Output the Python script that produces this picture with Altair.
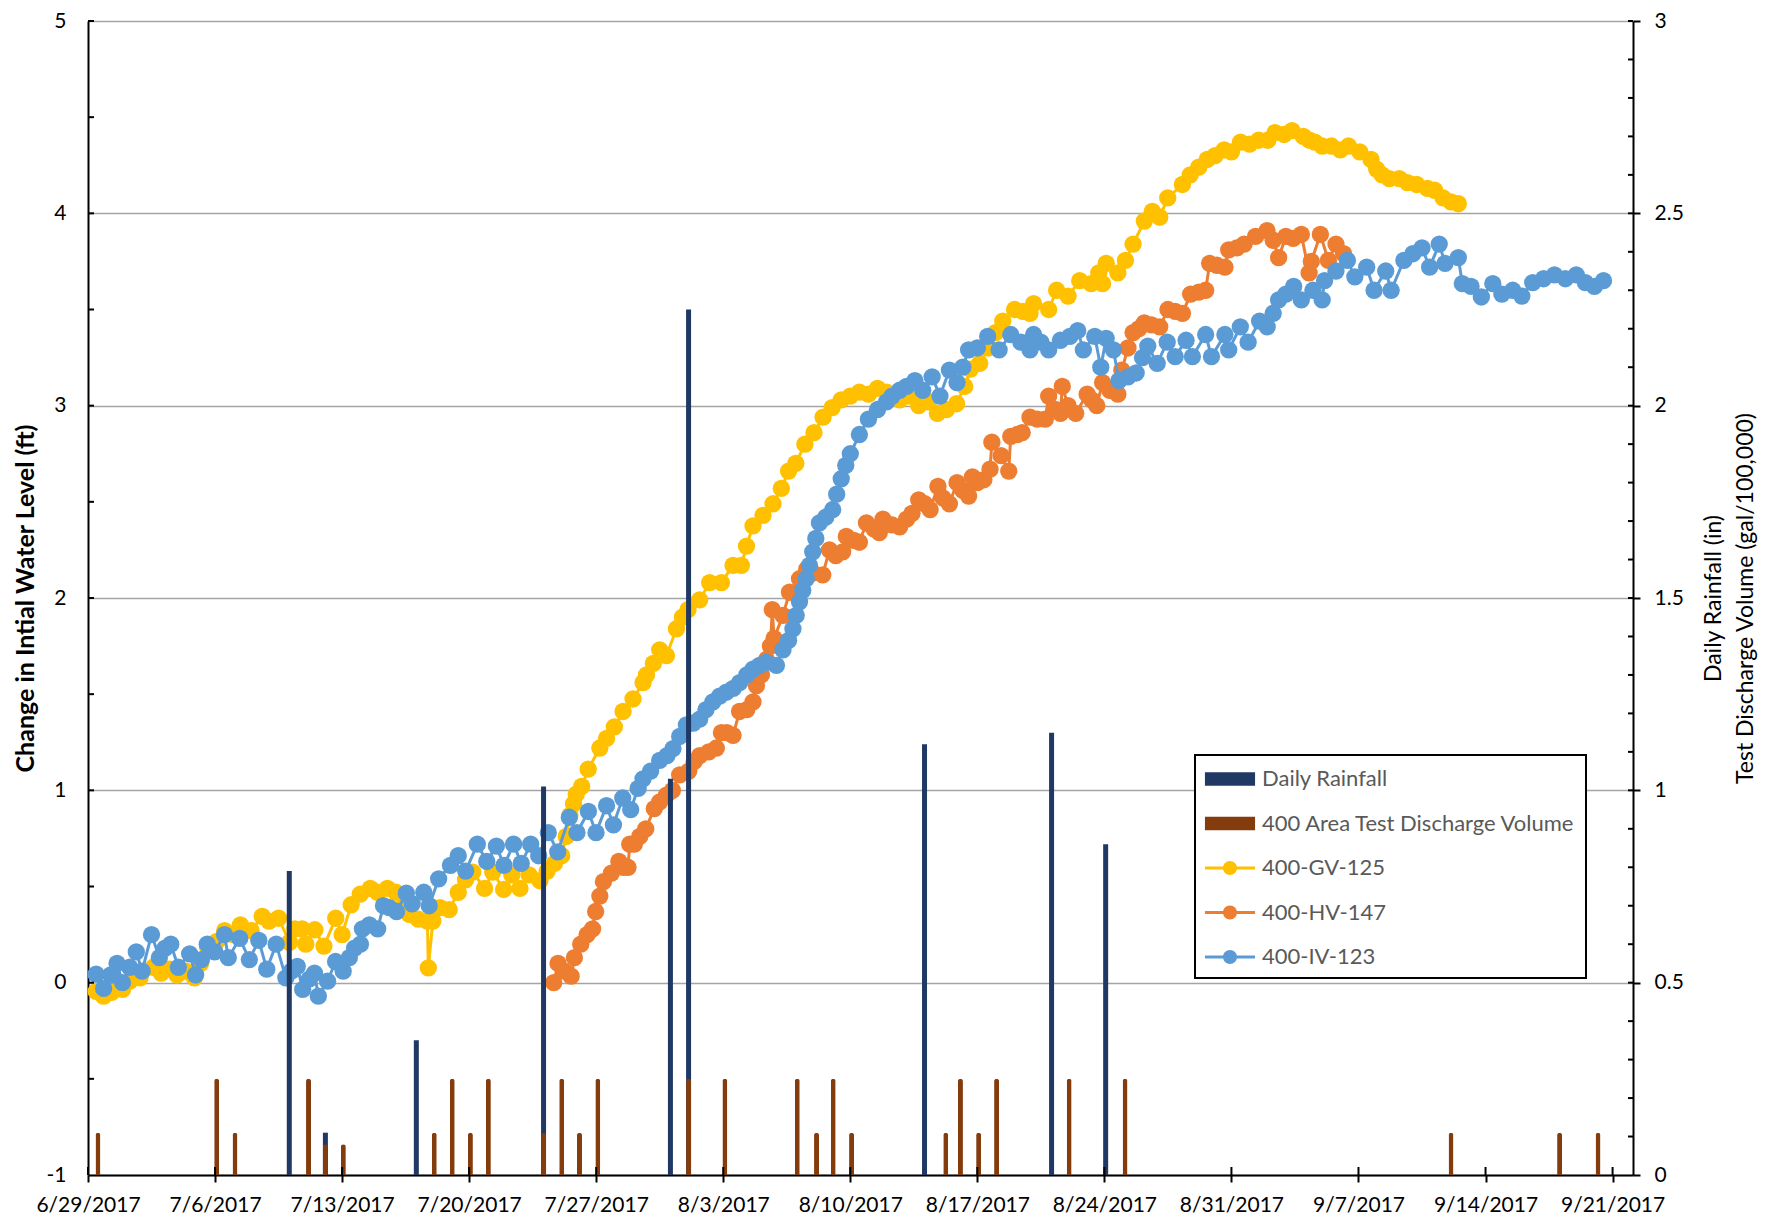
import altair as alt
import pandas as pd

# ---------------- data (day offsets from 6/29/2017) -------------
START = "2017-06-29"

tick_dates = ["2017-06-29", "2017-07-06", "2017-07-13", "2017-07-20", "2017-07-27",
              "2017-08-03", "2017-08-10", "2017-08-17", "2017-08-24", "2017-08-31",
              "2017-09-07", "2017-09-14", "2017-09-21"]

# Daily rainfall (in) : (day offset, value)
rainfall = [(11.09, 0.79), (13.08, 0.11), (18.09, 0.35), (25.1, 1.01), (32.09, 1.03),
            (33.09, 2.25), (46.09, 1.12), (53.09, 1.15), (56.07, 0.86)]

# 400 Area test discharge volume (gal/100,000)
discharge = [(0.55, 0.11), (7.09, 0.25), (8.1, 0.11), (12.15, 0.25), (13.07, 0.08), (14.07, 0.08),
             (19.08, 0.11), (20.07, 0.25), (21.07, 0.11), (22.06, 0.25), (25.1, 0.11), (26.1, 0.25),
             (27.08, 0.11), (28.09, 0.25), (33.09, 0.25), (35.09, 0.25), (39.08, 0.25), (40.14, 0.11),
             (41.06, 0.25), (42.07, 0.11), (47.26, 0.11), (48.07, 0.25), (49.07, 0.11), (50.06, 0.25),
             (54.06, 0.25), (57.14, 0.25), (75.1, 0.11), (81.08, 0.11), (83.2, 0.11)]

gv_125 = [(0.45, -0.045), (0.86, -0.07), (1.3, -0.05), (1.9, -0.035), (2.3, 0.008), (2.87, 0.025),
          (3.6, 0.08), (4.03, 0.05), (4.5, 0.07), (4.9, 0.04), (5.4, 0.06), (5.86, 0.025), (6.2, 0.1),
          (6.6, 0.18), (7.1, 0.215), (7.53, 0.27), (8.0, 0.25), (8.4, 0.3), (8.99, 0.27), (9.6, 0.345),
          (9.97, 0.32), (10.5, 0.335), (11.1, 0.21), (11.4, 0.28), (11.8, 0.28), (12.0, 0.2),
          (12.5, 0.275), (13.0, 0.19), (13.65, 0.335), (14.0, 0.25), (14.5, 0.405), (15.0, 0.46),
          (15.55, 0.49), (15.96, 0.47), (16.5, 0.49), (16.96, 0.47), (17.4, 0.4), (17.7, 0.355),
          (18.2, 0.33), (18.7, 0.32), (18.75, 0.077), (19.0, 0.32), (19.4, 0.39), (19.9, 0.38),
          (20.4, 0.47), (20.8, 0.535), (21.2, 0.575), (21.85, 0.49), (22.3, 0.575), (22.9, 0.485),
          (23.35, 0.56), (23.8, 0.49), (24.3, 0.56), (24.9, 0.53), (25.3, 0.58), (25.7, 0.62),
          (26.1, 0.66), (26.35, 0.76), (26.55, 0.87), (26.75, 0.93), (26.9, 0.98), (27.2, 1.02),
          (27.56, 1.11), (28.2, 1.22), (28.57, 1.27), (29.0, 1.33), (29.48, 1.41), (30.03, 1.475),
          (30.58, 1.56), (30.77, 1.6), (31.15, 1.66), (31.5, 1.73), (31.87, 1.7), (32.42, 1.84),
          (32.75, 1.9), (33.06, 1.94), (33.7, 1.99), (34.25, 2.08), (34.9, 2.08), (35.54, 2.17),
          (36.0, 2.17), (36.28, 2.27), (36.64, 2.375), (37.19, 2.43), (37.74, 2.49), (38.2, 2.57),
          (38.6, 2.66), (39.0, 2.7), (39.5, 2.8), (40.0, 2.86), (40.5, 2.94), (41.0, 2.99),
          (41.5, 3.03), (42.0, 3.05), (42.5, 3.07), (43.0, 3.06), (43.5, 3.09), (44.0, 3.07),
          (44.72, 3.03), (45.2, 3.05), (45.77, 3.0), (46.3, 3.02), (46.8, 2.96), (47.3, 2.98),
          (47.86, 3.01), (48.3, 3.1), (48.62, 3.19), (49.13, 3.22), (49.6, 3.3), (50.0, 3.38),
          (50.4, 3.44), (51.05, 3.5), (51.5, 3.49), (51.9, 3.48), (52.1, 3.53), (52.93, 3.5),
          (53.37, 3.6), (54.0, 3.57), (54.64, 3.65), (55.27, 3.635), (55.69, 3.69), (55.9, 3.635),
          (56.1, 3.74), (56.74, 3.69), (57.16, 3.755), (57.58, 3.84), (58.2, 3.96), (58.64, 4.01),
          (59.05, 3.98), (59.49, 4.08), (60.3, 4.15), (60.73, 4.2), (61.2, 4.24), (61.67, 4.28),
          (62.1, 4.3), (62.6, 4.33), (63.0, 4.32), (63.5, 4.37), (64.0, 4.36), (64.5, 4.38),
          (65.0, 4.38), (65.4, 4.42), (65.9, 4.41), (66.34, 4.43), (66.96, 4.4), (67.3, 4.38),
          (67.6, 4.37), (68.0, 4.35), (68.51, 4.35), (69.0, 4.33), (69.45, 4.35), (70.07, 4.32),
          (70.69, 4.28), (71.0, 4.23), (71.3, 4.2), (71.7, 4.18), (72.25, 4.18), (72.7, 4.16),
          (73.2, 4.15), (73.8, 4.13), (74.2, 4.12), (74.66, 4.08), (75.1, 4.06), (75.5, 4.05)]

hv_147 = [(25.66, 0.0), (25.9, 0.1), (26.25, 0.06), (26.62, 0.034), (26.8, 0.13), (27.15, 0.2),
          (27.5, 0.25), (27.8, 0.28), (27.97, 0.37), (28.2, 0.45), (28.4, 0.525), (28.84, 0.57),
          (29.25, 0.63), (29.5, 0.6), (29.75, 0.6), (29.85, 0.72), (30.1, 0.72), (30.4, 0.76),
          (30.73, 0.8), (31.2, 0.905), (31.5, 0.94), (31.87, 0.975), (32.2, 1.0), (32.6, 1.08),
          (33.1, 1.1), (33.4, 1.15), (33.7, 1.18), (34.2, 1.2), (34.62, 1.22), (34.9, 1.3),
          (35.2, 1.3), (35.54, 1.286), (35.9, 1.41), (36.3, 1.42), (36.64, 1.46), (36.83, 1.545),
          (37.1, 1.6), (37.38, 1.68), (37.6, 1.75), (37.7, 1.94), (37.8, 1.79), (38.29, 1.91),
          (38.65, 2.03), (39.2, 2.1), (39.6, 2.15), (39.93, 2.13), (40.48, 2.12), (40.85, 2.25),
          (41.2, 2.22), (41.58, 2.24), (41.78, 2.32), (42.2, 2.3), (42.5, 2.29), (42.89, 2.39),
          (43.3, 2.36), (43.6, 2.34), (43.8, 2.41), (44.3, 2.38), (44.72, 2.37), (45.1, 2.41),
          (45.4, 2.44), (45.77, 2.51), (46.1, 2.49), (46.4, 2.46), (46.83, 2.58), (47.1, 2.52),
          (47.46, 2.49), (47.88, 2.6), (48.2, 2.56), (48.52, 2.53), (48.73, 2.63), (49.0, 2.6),
          (49.36, 2.615), (49.7, 2.67), (49.8, 2.81), (50.31, 2.74), (50.73, 2.66), (50.84, 2.84),
          (51.2, 2.85), (51.47, 2.86), (51.9, 2.94), (52.3, 2.93), (52.74, 2.93), (52.93, 3.05),
          (53.3, 2.98), (53.58, 2.96), (53.68, 3.1), (54.0, 3.0), (54.42, 2.96), (55.05, 3.06),
          (55.3, 3.03), (55.58, 3.0), (55.9, 3.12), (56.3, 3.08), (56.74, 3.06), (56.96, 3.185),
          (57.3, 3.3), (57.58, 3.38), (57.9, 3.4), (58.2, 3.43), (58.6, 3.42), (59.05, 3.41),
          (59.5, 3.5), (59.9, 3.49), (60.3, 3.48), (60.75, 3.58), (61.2, 3.59), (61.58, 3.6),
          (61.8, 3.74), (62.2, 3.73), (62.64, 3.72), (62.85, 3.81), (63.3, 3.82), (63.7, 3.84),
          (64.33, 3.88), (64.96, 3.91), (65.3, 3.86), (65.6, 3.77), (66.0, 3.88), (66.4, 3.87),
          (66.85, 3.89), (67.28, 3.69), (67.4, 3.75), (67.9, 3.89), (68.34, 3.755), (68.76, 3.84),
          (69.18, 3.79)]

iv_123 = [(0.45, 0.044), (0.86, -0.03), (1.25, 0.04), (1.6, 0.1), (1.9, 0.0), (2.3, 0.08),
          (2.66, 0.16), (2.98, 0.06), (3.5, 0.25), (3.93, 0.13), (4.25, 0.18), (4.56, 0.2),
          (4.98, 0.08), (5.6, 0.15), (5.93, 0.04), (6.25, 0.12), (6.57, 0.2), (6.98, 0.16),
          (7.52, 0.25), (7.73, 0.13), (8.36, 0.23), (8.89, 0.12), (9.41, 0.22), (9.85, 0.07),
          (10.37, 0.2), (10.9, 0.025), (11.2, 0.06), (11.53, 0.085), (11.83, -0.035), (12.2, 0.02),
          (12.48, 0.05), (12.69, -0.07), (13.2, 0.008), (13.64, 0.11), (14.06, 0.06), (14.4, 0.13),
          (14.69, 0.18), (15.01, 0.2), (15.12, 0.28), (15.5, 0.3), (15.96, 0.28), (16.28, 0.4),
          (16.6, 0.39), (17.0, 0.37), (17.54, 0.465), (17.86, 0.41), (18.5, 0.47), (18.8, 0.4),
          (19.32, 0.54), (19.97, 0.61), (20.4, 0.66), (20.81, 0.58), (21.45, 0.72), (21.97, 0.63),
          (22.5, 0.71), (22.92, 0.61), (23.45, 0.72), (23.87, 0.62), (24.39, 0.72), (24.83, 0.66),
          (25.36, 0.78), (25.88, 0.68), (26.52, 0.86), (26.94, 0.78), (27.57, 0.89), (27.99, 0.78),
          (28.57, 0.92), (28.95, 0.82), (29.46, 0.96), (29.9, 0.9), (30.31, 1.01), (30.58, 1.06),
          (31.0, 1.1), (31.5, 1.156), (31.9, 1.18), (32.23, 1.217), (32.6, 1.28), (32.97, 1.34),
          (33.35, 1.35), (33.7, 1.37), (34.05, 1.42), (34.43, 1.46), (34.8, 1.49), (35.17, 1.51),
          (35.55, 1.53), (35.9, 1.56), (36.3, 1.6), (36.64, 1.63), (37.0, 1.65), (37.38, 1.665),
          (37.93, 1.65), (38.29, 1.73), (38.6, 1.78), (38.84, 1.84), (39.02, 1.91), (39.2, 1.98),
          (39.38, 2.04), (39.57, 2.1), (39.75, 2.17), (39.93, 2.24), (40.1, 2.31), (40.3, 2.39),
          (40.65, 2.42), (41.03, 2.46), (41.25, 2.54), (41.5, 2.62), (41.75, 2.69), (42.0, 2.75),
          (42.5, 2.85), (43.0, 2.93), (43.5, 2.98), (44.0, 3.02), (44.3, 3.05), (44.72, 3.08),
          (45.1, 3.1), (45.56, 3.13), (45.99, 3.08), (46.51, 3.15), (46.94, 3.05), (47.46, 3.185),
          (47.88, 3.12), (48.2, 3.2), (48.52, 3.29), (49.0, 3.3), (49.57, 3.36), (50.2, 3.29),
          (50.84, 3.37), (51.4, 3.33), (51.9, 3.29), (52.1, 3.37), (52.5, 3.33), (52.93, 3.29),
          (53.58, 3.34), (54.1, 3.36), (54.53, 3.39), (54.84, 3.29), (55.47, 3.36), (55.8, 3.2),
          (56.1, 3.35), (56.5, 3.29), (56.8, 3.13), (57.3, 3.15), (57.75, 3.17), (58.1, 3.25),
          (58.39, 3.31), (58.91, 3.22), (59.46, 3.33), (59.9, 3.255), (60.5, 3.34), (60.85, 3.255),
          (61.58, 3.37), (61.9, 3.255), (62.64, 3.37), (62.85, 3.29), (63.49, 3.41), (63.92, 3.33),
          (64.55, 3.44), (64.97, 3.41), (65.3, 3.48), (65.6, 3.55), (66.0, 3.58), (66.43, 3.62),
          (66.85, 3.55), (67.49, 3.6), (68.0, 3.55), (68.13, 3.65), (68.76, 3.7), (69.39, 3.755),
          (69.8, 3.67), (70.45, 3.72), (70.86, 3.6), (71.5, 3.7), (71.8, 3.6), (72.5, 3.755),
          (73.0, 3.79), (73.5, 3.82), (73.92, 3.72), (74.45, 3.84), (74.77, 3.74), (75.5, 3.77),
          (75.72, 3.635), (76.2, 3.62), (76.77, 3.565), (77.4, 3.635), (77.9, 3.58), (78.5, 3.6),
          (79.0, 3.57), (79.6, 3.64), (80.2, 3.66), (80.8, 3.68), (81.4, 3.66), (82.0, 3.68),
          (82.5, 3.64), (83.0, 3.62), (83.5, 3.65)]

legend_names = ["Daily Rainfall", "400 Area Test Discharge Volume", "400-GV-125", "400-HV-147", "400-IV-123"]
left_ticks = [-1, 0, 1, 2, 3, 4, 5]
left_minor = [-0.5, 0, 0.5, 1, 1.5, 2, 2.5, 3, 3.5, 4, 4.5, 5]
right_ticks = [0, 0.5, 1, 1.5, 2, 2.5, 3]
right_title = ["Daily Rainfall (in)", "Test Discharge Volume (gal/100,000)"]

# ---------------- style -------------
NAVY = "#203864"
BROWN = "#843C0C"
GOLD = "#FFC000"
ORANGE = "#ED7D31"
BLUE = "#5B9BD5"
legend_colors = [NAVY, BROWN, GOLD, ORANGE, BLUE]
FONT = "Lato"
W, H = 1545, 1154

BAR_PATH = "M-1.79,-0.48H1.79V0.48H-1.79Z"
LINE_PATH = ("M-1.79,-0.11H1.79V0.11H-1.79Z "
             "M0.5,0A0.5,0.5 0 1 1 -0.5,0A0.5,0.5 0 1 1 0.5,0Z")
legend_shapes = [BAR_PATH, BAR_PATH, LINE_PATH, LINE_PATH, LINE_PATH]


def to_frame(pairs):
    days = [p[0] for p in pairs]
    vals = [p[1] for p in pairs]
    t = pd.Timestamp(START) + pd.to_timedelta(days, unit="D")
    return pd.DataFrame({"t": t, "v": vals})


def dt(s):
    y, m, d = (int(p) for p in s.split("-"))
    return alt.DateTime(year=y, month=m, date=d)


x_scale = alt.Scale(domain=[alt.DateTime(year=2017, month=6, date=29),
                            alt.DateTime(year=2017, month=9, date=22, hours=3)],
                    padding=0, nice=False)
x_axis = alt.Axis(values=[dt(s) for s in tick_dates], format="%-m/%-d/%Y",
                  labelFontSize=21, labelFont=FONT, labelColor="black",
                  labelOverlap=False, labelFlush=False, labelPadding=12,
                  tickColor="black", tickWidth=2, tickSize=7,
                  domainColor="black", domainWidth=2, grid=False, title=None)


def X():
    return alt.X("t:T", scale=x_scale, axis=x_axis)


left_scale = alt.Scale(domain=[-1, 5], nice=False, zero=False)
right_scale = alt.Scale(domain=[0, 3], nice=False, zero=False)

left_axis = alt.Axis(orient="left", values=left_ticks, labelExpr="'' + datum.value",
                     grid=True, gridColor="#A5A5A5", gridWidth=1.5, ticks=False,
                     domainColor="black", domainWidth=2,
                     labelFontSize=21, labelFont=FONT, labelColor="black", labelPadding=22,
                     title="Change in Intial Water Level (ft)", titleFont=FONT, titleFontSize=25,
                     titleFontWeight="bold", titleColor="black", titleX=-63, titleBaseline="middle")

right_axis = alt.Axis(orient="right", values=right_ticks, labelExpr="'' + datum.value",
                      grid=False, tickColor="black", tickWidth=2, tickSize=7,
                      domainColor="black", domainWidth=2,
                      labelFontSize=21, labelFont=FONT, labelColor="black", labelPadding=14,
                      title=right_title,
                      titleFont=FONT, titleFontSize=23, titleFontWeight="normal", titleColor="black",
                      titleAngle=270, titleX=80, titleBaseline="middle", titleLineHeight=32)


def series_layer(pairs, color, axis):
    return alt.Chart(to_frame(pairs)).mark_line(
        color=color, strokeWidth=3,
        point=alt.OverlayMarkDef(filled=True, size=300, color=color, opacity=1)
    ).encode(x=X(), y=alt.Y("v:Q", scale=left_scale, axis=axis))


gv_layer = series_layer(gv_125, GOLD, left_axis)
hv_layer = series_layer(hv_147, ORANGE, None)
iv_layer = series_layer(iv_123, BLUE, None)

rain_layer = alt.Chart(to_frame(rainfall)).mark_bar(width=5, color=NAVY).encode(
    x=X(), y=alt.Y("v:Q", scale=right_scale, axis=right_axis))
dis_layer = alt.Chart(to_frame(discharge)).mark_bar(
    width=5, color=BROWN, cornerRadiusTopLeft=2.5, cornerRadiusTopRight=2.5).encode(
    x=X(), y=alt.Y("v:Q", scale=right_scale, axis=None))

# inside tick marks
left_tick_layer = alt.Chart(pd.DataFrame({"v": left_minor})).mark_rule(
    color="black", strokeWidth=2).encode(
    y=alt.Y("v:Q", scale=left_scale, axis=None), x=alt.value(0), x2=alt.value(6))
right_minor = [round(i * 0.1, 1) for i in range(1, 31)]
right_tick_layer = alt.Chart(pd.DataFrame({"v": right_minor})).mark_rule(
    color="black", strokeWidth=2).encode(
    y=alt.Y("v:Q", scale=right_scale, axis=None), x=alt.value(W - 5), x2=alt.value(W))
x_tick_layer = alt.Chart(pd.DataFrame({"t": pd.to_datetime(tick_dates)})).mark_rule(
    color="black", strokeWidth=2).encode(
    x=X(), y=alt.value(H - 8), y2=alt.value(H))

leg = alt.Legend(title=None, orient="none", legendX=1107, legendY=734, direction="vertical",
                 symbolSize=784, symbolOpacity=1, symbolStrokeWidth=0, symbolOffset=11,
                 labelOffset=18, labelFontSize=22, labelFont=FONT, labelColor="#595959",
                 labelLimit=600, rowPadding=19.5, padding=10, strokeColor="black", fillColor="white")
legend_layer = alt.Chart(pd.DataFrame({"series": legend_names})).mark_point(
    filled=True, opacity=0, size=784).encode(
    color=alt.Color("series:N", scale=alt.Scale(domain=legend_names, range=legend_colors), legend=leg),
    shape=alt.Shape("series:N", scale=alt.Scale(domain=legend_names, range=legend_shapes), legend=leg))

chart = alt.layer(
    gv_layer, hv_layer, iv_layer, rain_layer, dis_layer,
    left_tick_layer, right_tick_layer, x_tick_layer, legend_layer
).resolve_scale(y="independent").properties(
    width=W, height=H,
    autosize=alt.AutoSizeParams(type="none"),
    padding={"left": 80, "top": 13, "right": 130, "bottom": 39},
    background="white",
).configure_view(stroke="transparent").configure_legend(strokeWidth=2)

chart.save("out.html", embed_options={"renderer": "svg", "actions": False})
